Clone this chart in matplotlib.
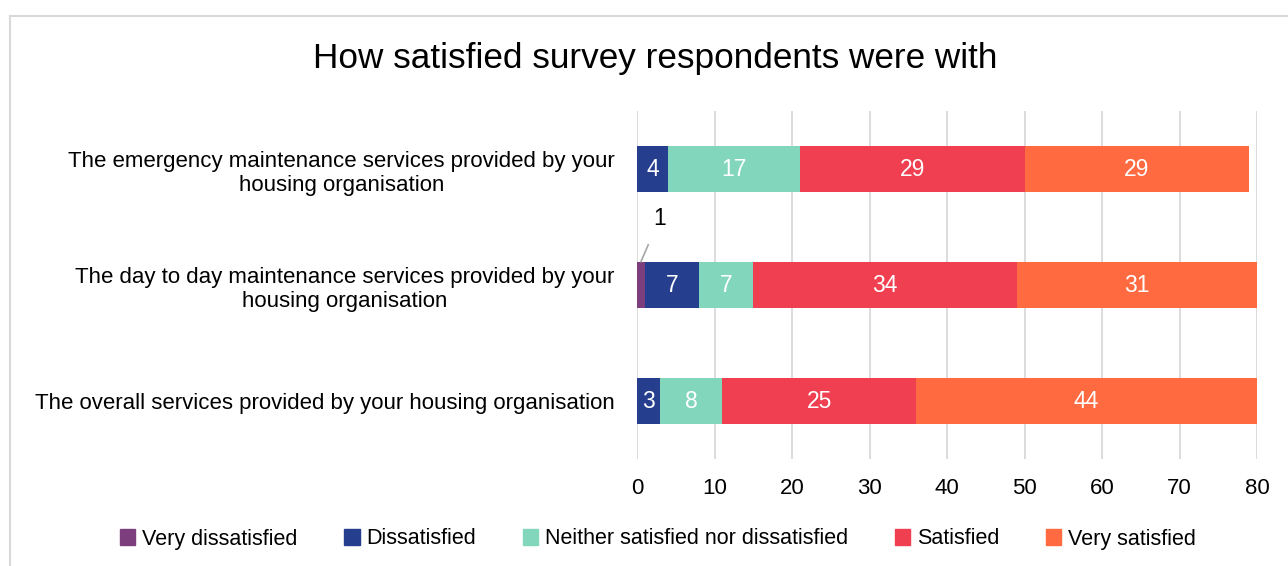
import matplotlib.pyplot as plt
import matplotlib.patches as mpatches
import numpy as np

plt.rcParams['font.family'] = ['Liberation Sans', 'DejaVu Sans']

categories = [
    "The emergency maintenance services provided by your\nhousing organisation",
    "The day to day maintenance services provided by your\nhousing organisation",
    "The overall services provided by your housing organisation",
]
series = ["Very dissatisfied", "Dissatisfied", "Neither satisfied nor dissatisfied",
          "Satisfied", "Very satisfied"]
very_dissatisfied = [0, 1, 0]
dissatisfied = [4, 7, 3]
neither = [17, 7, 8]
satisfied = [29, 34, 25]
very_satisfied = [29, 31, 44]
colors = ["#7c3e7d", "#253f8e", "#82d6bc", "#ef3f50", "#ff6a41"]

values = [very_dissatisfied, dissatisfied, neither, satisfied, very_satisfied]

fig = plt.figure(figsize=(12.88, 5.66), dpi=100)
ax = fig.add_axes([637 / 1288, 1 - 459 / 566, 620 / 1288, 348 / 566])

# chart frame (light grey outline, cut off at right and bottom)
fig.add_artist(plt.Line2D([10 / 1288, 10 / 1288], [1 - 16 / 566, 0], color="#d9d9d9",
                          lw=1.5, transform=fig.transFigure))
fig.add_artist(plt.Line2D([10 / 1288, 1], [1 - 16 / 566, 1 - 16 / 566], color="#d9d9d9",
                          lw=1.5, transform=fig.transFigure))

ypos = np.arange(len(categories))[::-1]
left = np.zeros(len(categories))
for name, vals, col in zip(series, values, colors):
    vals = np.array(vals, dtype=float)
    ax.barh(ypos, vals, left=left, height=0.4, color=col, label=name, zorder=3)
    for y, l, v in zip(ypos, left, vals):
        if v >= 2:
            ax.text(l + v / 2, y, f"{int(v)}", ha="center", va="center",
                    color="white", fontsize=16.5, zorder=4)
        elif v > 0:
            # small segment: label above with a leader line
            ax.annotate(f"{int(v)}", xy=(l + v / 2, y + 0.2), xytext=(l + v / 2 + 2.4, y + 0.57),
                        ha="center", va="center", fontsize=16.5, color="black",
                        arrowprops=dict(arrowstyle="-", color="#a6a6a6", lw=1.2,
                                        shrinkA=9, shrinkB=0))
    left += vals

ax.set_xlim(0, 80)
ax.set_ylim(-0.5, 2.5)
ax.set_xticks(np.arange(0, 81, 10))
ax.set_yticks(ypos)
ax.set_yticklabels(categories, fontsize=16, multialignment="center")
ax.tick_params(axis="x", labelsize=16, length=0, pad=14)
ax.tick_params(axis="y", length=0, pad=16)
ax.grid(axis="x", color="#d9d9d9", lw=1.3, zorder=0)
for s in ax.spines.values():
    s.set_visible(False)

fig.text(655 / 1288, 1 - 58 / 566, "How satisfied survey respondents were with",
         ha="center", va="center", fontsize=25.3)

handles = [mpatches.Patch(color=c, label=n) for n, c in zip(series, colors)]
fig.legend(handles=handles, loc="center", bbox_to_anchor=(658 / 1288, 1 - 539 / 566),
           ncol=5, frameon=False, fontsize=15.5, handlelength=0.7, handleheight=0.7,
           handletextpad=0.3, columnspacing=2.2)

fig.savefig("out.png", dpi=100)
